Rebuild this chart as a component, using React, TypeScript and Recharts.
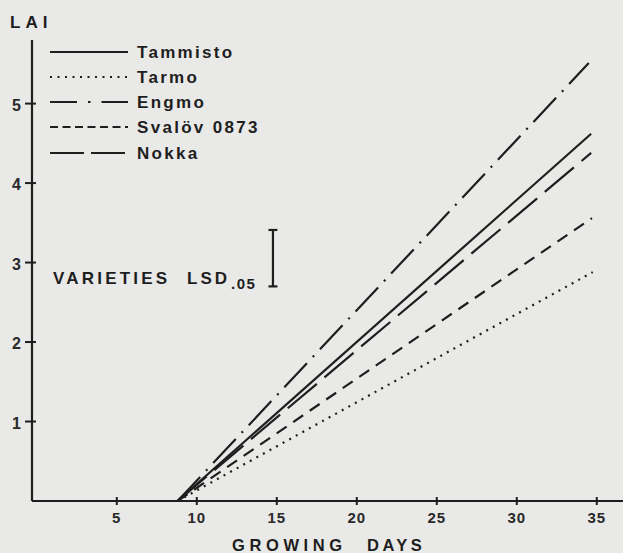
import React from 'react';
import { LineChart, Line, XAxis, YAxis, Legend, ReferenceLine, Customized } from 'recharts';

const varieties = ['Tammisto', 'Tarmo', 'Engmo', 'Svalöv 0873', 'Nokka'];
const startDay = [8.8, 8.8, 8.8, 8.8, 8.8];
const endDay = [34.65, 34.75, 34.5, 34.7, 34.65];
const startLAI = [0, 0, 0, 0, 0];
const endLAI = [4.62, 2.88, 5.51, 3.56, 4.38];
const xTicks = [5, 10, 15, 20, 25, 30, 35];
const yTicks = [1, 2, 3, 4, 5];
const lsdDay = 14.76;
const lsdLow = 2.7;
const lsdHigh = 3.41;

const dashes = ['', '2 5.5', '33 8.5 2 8.5', '12 8', '38 10'];
const legendDashes = ['', '2 5.5', '27 11 2.5 11', '8 4.5', '34 7'];

const INK = '#1e1e1e';
const FONT = '"Liberation Sans", Arial, Helvetica, sans-serif';

const XTick = (props: any) => {
  const { x, y, payload } = props;
  return (
    <g>
      <line x1={x} x2={x} y1={y - 4} y2={y + 4} stroke={INK} strokeWidth={2} />
      <text x={x} y={y + 22} textAnchor="middle" fontFamily={FONT} fontWeight="bold" fontSize={15} fill="#2a2a2a" letterSpacing={1}>
        {payload.value}
      </text>
    </g>
  );
};

const YTick = (props: any) => {
  const { x, y, payload } = props;
  return (
    <g>
      <line x1={x - 7} x2={x + 4} y1={y} y2={y} stroke={INK} strokeWidth={2} />
      <text x={x - 11} y={y + 7} textAnchor="end" fontFamily={FONT} fontWeight="bold" fontSize={16} fill="#2a2a2a">
        {payload.value}
      </text>
    </g>
  );
};

const LegendContent = () => (
  <svg width={260} height={130} style={{ overflow: 'visible' }}>
    {varieties.map((v, i) => {
      const cy = [12, 37, 62, 87, 113][i];
      return (
        <g key={v}>
          <line x1={0} x2={78} y1={cy} y2={cy} stroke={INK} strokeWidth={2.2} strokeDasharray={legendDashes[i]} />
          <text x={87} y={cy + 6} fontFamily={FONT} fontWeight="bold" fontSize={17} letterSpacing={2.3} fill={INK}>
            {v}
          </text>
        </g>
      );
    })}
  </svg>
);

const Annotations = () => (
  <g fontFamily={FONT} fill={INK} fontWeight="bold">
    <text x={10} y={28} fontSize={17} letterSpacing={5}>LAI</text>
    <text x={53} y={284} fontSize={17} letterSpacing={3.2}>VARIETIES</text>
    <text x={187} y={284} fontSize={17} letterSpacing={3}>LSD</text>
    <text x={231} y={289} fontSize={15} letterSpacing={1.5}>.05</text>
    <text x={232} y={551} fontSize={16.5} letterSpacing={4.6}>GROWING</text>
    <text x={367} y={551} fontSize={16.5} letterSpacing={3.5}>DAYS</text>
  </g>
);

export default function App() {
  return (
    <div style={{ width: 623, height: 553, background: '#e9e9e7', position: 'relative' }}>
      <style>{`body{margin:0;background:#e9e9e7;}`}</style>
      <LineChart width={623} height={553} margin={{ top: 40, right: 0, bottom: 0, left: 0 }}>
        <XAxis
          type="number"
          dataKey="x"
          domain={[-0.3, 36.64]}
          ticks={xTicks}
          interval={0}
          height={52}
          tickSize={0}
          tickMargin={0}
          tickLine={false}
          tick={<XTick />}
          axisLine={{ stroke: INK, strokeWidth: 2.2 }}
          allowDataOverflow
        />
        <YAxis
          type="number"
          dataKey="y"
          domain={[0, 5.8]}
          ticks={yTicks}
          interval={0}
          width={32}
          tickSize={0}
          tickMargin={0}
          tickLine={false}
          tick={<YTick />}
          axisLine={{ stroke: INK, strokeWidth: 2.2 }}
          allowDataOverflow
        />
        {varieties.map((v, i) => (
          <Line
            key={v}
            name={v}
            data={[
              { x: startDay[i], y: startLAI[i] },
              { x: endDay[i], y: endLAI[i] },
            ]}
            dataKey="y"
            type="linear"
            stroke={INK}
            strokeWidth={2.2}
            strokeDasharray={dashes[i] || undefined}
            dot={false}
            activeDot={false}
            isAnimationActive={false}
          />
        ))}
        <ReferenceLine segment={[{ x: lsdDay, y: lsdLow }, { x: lsdDay, y: lsdHigh }]} stroke={INK} strokeWidth={2.2} />
        <ReferenceLine segment={[{ x: lsdDay - 0.28, y: lsdLow }, { x: lsdDay + 0.28, y: lsdLow }]} stroke={INK} strokeWidth={2.2} />
        <ReferenceLine segment={[{ x: lsdDay - 0.28, y: lsdHigh }, { x: lsdDay + 0.28, y: lsdHigh }]} stroke={INK} strokeWidth={2.2} />
        <Legend
          layout="vertical"
          align="center"
          verticalAlign="middle"
          content={<LegendContent />}
          wrapperStyle={{ position: 'absolute', left: 50, top: 40, width: 260, height: 130 }}
        />
        <Customized component={Annotations} />
      </LineChart>
    </div>
  );
}
